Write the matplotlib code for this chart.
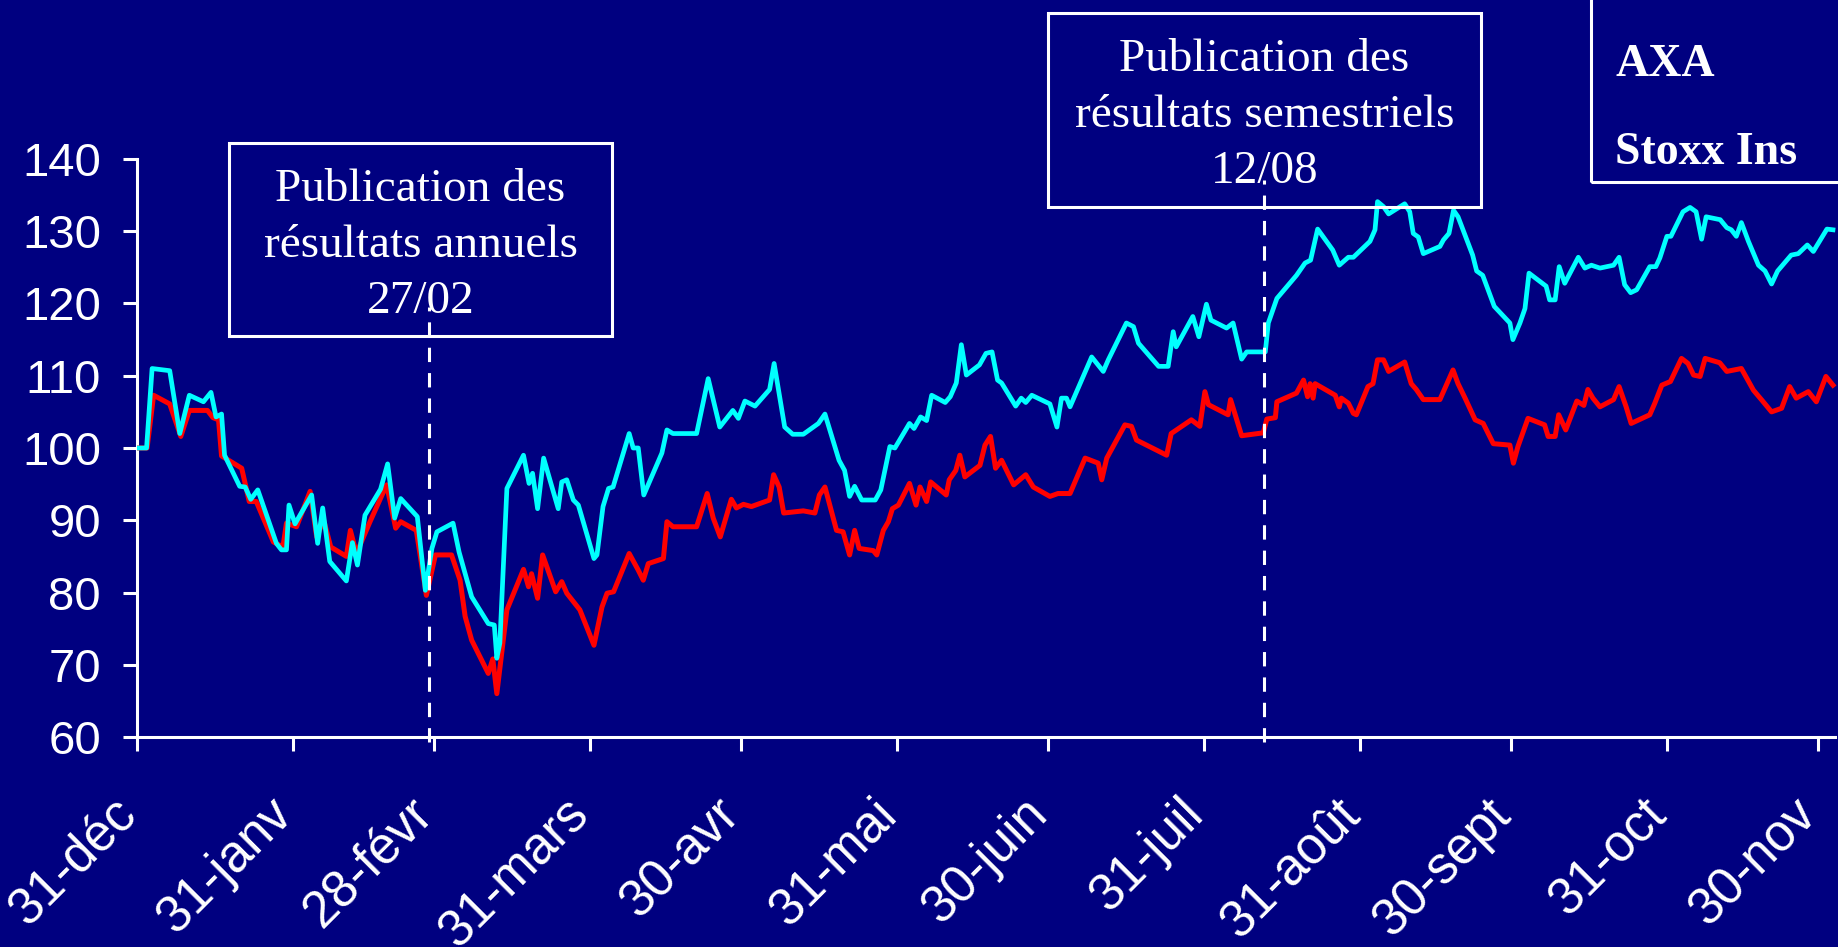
import matplotlib
matplotlib.use("Agg")
import matplotlib.pyplot as plt
from matplotlib.patches import Rectangle
from matplotlib.transforms import ScaledTranslation
import pandas as pd

# jours depuis le 31/12/2002, indice base 100
axa_days = [0, 1.9, 3.0, 6.5, 8.5, 10.4, 13.2, 14.7, 15.7, 16.8, 17.4, 20.4, 21.5, 22.6, 24.0,
            27.7, 28.7, 29.7, 30.2, 31.4, 34.7, 35.9, 36.9, 38.3, 41.6, 42.8, 43.8, 45.3, 48.4,
            49.8, 51.2, 52.4, 55.7, 57.3, 58.6, 59.6, 62.8, 64.0, 66.5, 69.8, 71.0, 71.5, 72.1,
            73.5, 76.8, 77.9, 78.6, 79.6, 80.8, 83.7, 84.4, 85.4, 86.7, 87.7, 90.8, 91.4, 92.6,
            93.7, 94.6, 97.8, 98.6, 99.6, 100.7, 104.3, 105.3, 106.5, 111.2, 113.5, 115.8,
            118.4, 119.5, 120.8, 122.8, 125.7, 126.6, 128.7, 130.3, 132.4, 135.4, 136.7, 139.5,
            140.6, 141.6, 142.6, 144.0, 146.7, 147.8, 149.6, 150.6, 153.5, 154.4, 155.7, 156.9,
            157.9, 160.6, 161.6, 162.8, 163.8, 164.8, 167.4, 168.7, 169.9, 171.0, 171.8, 174.6,
            175.7, 176.6, 177.8, 181.4, 182.8, 183.7, 184.7, 185.4, 189.7, 192.0, 193.0, 196.6,
            198.0, 199.0, 203.0, 204.9, 205.9, 206.5, 209.8, 211.0, 212.5, 213.4, 216.5, 217.8,
            219.5, 220.5, 224.2, 224.8, 226.5, 230.4, 232.1, 233.2, 234.6, 237.6, 238.9, 240.7,
            241.7, 245.0, 246.0, 246.5, 247.7, 248.7, 251.9, 252.9, 253.6, 254.6, 255.6, 258.9,
            259.6, 260.7, 261.6, 262.5, 265.4, 266.2, 267.4, 269.7, 272.8, 273.4, 274.8, 275.8,
            276.6, 280.0, 280.7, 281.8, 282.6, 283.7, 286.4, 287.7, 289.0, 290.7, 293.4, 294.5,
            295.6, 296.8, 298.0, 300.6, 301.8, 302.6, 304.0, 304.8, 307.2, 308.6, 309.8, 310.9,
            311.8, 314.6, 315.9, 316.8, 317.8, 318.8, 320.2, 322.2, 323.5, 324.8, 326.0, 328.7,
            330.1, 331.9, 333.1, 335.8, 337.0]
axa = [100, 100, 111.0, 110.7, 102.0, 107.3, 106.4, 107.7, 104.3, 104.7, 99.0, 94.7, 94.6, 92.9, 94.2,
       86.8, 85.9, 85.9, 92.1, 89.5, 93.5, 86.8, 91.7, 84.3, 81.6, 86.9, 83.8, 90.7, 94.3,
       97.8, 90.3, 93.0, 90.5, 80.3, 86.1, 88.4, 89.6, 85.6, 79.4, 75.7, 75.5, 70.9, 73.0,
       94.4, 99.0, 95.1, 96.5, 91.6, 98.6, 91.6, 95.3, 95.6, 92.8, 92.1, 84.7, 85.2, 91.9,
       94.4, 94.6, 102.0, 100.0, 100.0, 93.5, 99.3, 102.5, 102.0, 102.0, 109.6, 102.9,
       105.2, 104.1, 106.5, 105.8, 108.1, 111.7, 102.9, 101.9, 101.9, 103.4, 104.7, 98.3,
       96.9, 93.3, 94.7, 92.8, 92.8, 94.2, 100.2, 100.0, 103.4, 102.7, 104.3, 103.8,
       107.3, 106.3, 107.1, 109.0, 114.3, 110.1, 111.5, 113.1, 113.3, 109.4, 109.0, 105.8,
       106.9, 106.3, 107.3, 106.1, 102.9, 106.9, 106.9, 105.7, 112.6, 110.6, 112.2, 117.3,
       116.8, 114.5, 111.3, 111.3, 116.1, 114.0, 118.2, 115.4, 119.9, 117.7, 116.6, 117.3,
       112.3, 113.3, 113.3, 117.3, 120.7, 123.9, 125.6, 126.0, 130.3, 127.4, 125.3, 126.4,
       126.4, 128.6, 130.2, 134.1, 133.4, 132.4, 133.8, 132.7, 129.7, 129.2, 126.9, 127.9,
       128.8, 129.7, 132.9, 132.0, 126.7, 124.5, 123.9, 119.6, 117.3, 115.0, 117.3, 119.3,
       124.2, 122.4, 120.5, 120.5, 125.1, 122.8, 126.4, 124.9, 125.3, 124.9, 125.3, 126.4,
       122.6, 121.5, 121.9, 125.1, 125.1, 126.3, 129.3, 129.3, 132.7, 133.3, 132.7, 128.9,
       132.0, 131.6, 130.5, 130.2, 129.3, 131.2, 128.6, 125.3, 124.5, 122.7, 124.5, 126.7,
       126.9, 128.1, 127.2, 130.3, 130.2]

stoxx_days = [0, 2.0, 3.3, 6.5, 8.7, 10.4, 14.0, 15.1, 16.2, 16.8, 20.8, 22.3, 23.7, 27.1, 29.0,
              29.7, 31.7, 34.4, 35.7, 37.1, 38.5, 41.6, 42.4, 43.6, 46.3, 49.6, 51.4, 52.4, 55.5,
              57.5, 59.3, 62.5, 64.2, 65.2, 66.5, 69.8, 70.7, 71.5, 73.5, 76.8, 77.8, 78.4, 79.6,
              80.6, 83.2, 84.4, 85.4, 88.0, 90.8, 92.4, 93.4, 94.7, 97.8, 99.6, 100.6, 101.6,
              104.6, 105.3, 106.5, 111.2, 113.3, 114.5, 115.9, 118.1, 119.1, 120.5, 122.1, 125.7,
              126.5, 127.6, 128.5, 132.4, 134.7, 135.6, 136.7, 139.0, 140.3, 141.6, 142.6, 143.5,
              146.3, 147.0, 148.3, 149.3, 150.1, 151.3, 153.5, 154.8, 155.6, 156.9, 157.7, 160.8,
              161.4, 162.7, 163.5, 164.5, 167.5, 168.5, 169.6, 170.6, 171.8, 174.2, 176.6, 178.1,
              181.4, 183.0, 185.4, 188.4, 191.0, 191.7, 192.7, 196.3, 197.6, 198.6, 204.6, 205.5,
              209.5, 211.2, 212.2, 212.9, 216.8, 217.3, 219.5, 223.8, 224.5, 226.2, 226.5, 230.4,
              231.8, 232.6, 233.1, 233.7, 234.1, 238.1, 238.9, 239.3, 240.7, 241.7, 242.3, 244.6,
              245.6, 246.5, 247.7, 248.7, 251.9, 253.2, 254.2, 255.6, 258.9, 260.3, 261.5, 262.5,
              263.9, 265.9, 267.5, 269.5, 272.8, 273.5, 274.4, 276.4, 279.7, 280.4, 281.8, 282.5,
              283.9, 286.1, 287.5, 288.3, 289.3, 290.7, 293.4, 294.5, 295.9, 296.9, 300.6, 301.6,
              303.0, 304.7, 306.9, 308.2, 309.3, 310.6, 311.6, 314.5, 315.9, 318.8, 321.2, 322.9,
              324.8, 326.8, 328.4, 329.7, 332.1, 333.7, 335.6, 337.0]
stoxx = [100, 100, 107.3, 106.1, 101.6, 105.2, 105.2, 104.2, 103.9, 98.9, 97.2, 92.6, 92.6, 87.0, 86.3,
         89.6, 89.1, 94.0, 87.7, 90.0, 86.3, 85.0, 88.6, 85.4, 89.8, 94.9, 88.9, 89.8, 88.6,
         79.6, 85.2, 85.2, 81.7, 76.7, 73.4, 68.8, 70.8, 66.0, 77.6, 83.2, 80.8, 82.6, 79.2,
         85.2, 80.1, 81.5, 79.9, 77.6, 72.7, 78.0, 79.9, 80.1, 85.4, 83.1, 81.7, 84.0,
         84.7, 89.8, 89.1, 89.1, 93.7, 90.3, 87.7, 92.9, 91.7, 92.2, 91.9, 92.8,
         96.3, 94.6, 91.0, 91.3, 91.0, 93.5, 94.6, 88.6, 88.4, 85.2, 88.6, 86.1,
         85.8, 85.2, 88.6, 89.8, 91.6, 92.1, 95.1, 92.1, 94.6, 92.6, 95.3, 93.5,
         95.6, 96.9, 99.0, 96.0, 97.6, 100.4, 101.6, 97.2, 98.3, 94.9, 96.3, 94.6,
         93.3, 93.7, 93.7, 98.6, 97.9, 95.6, 98.6, 103.2, 103.0, 101.1, 99.0, 102.0,
         103.9, 103.0, 107.8, 106.0, 104.6, 106.7, 101.7, 102.1, 104.0, 104.2, 106.4, 107.6,
         109.4, 107.1, 108.9, 106.9, 108.9, 107.3, 105.7, 106.9, 106.2, 104.8, 104.6, 108.5,
         108.9, 112.2, 112.2, 110.6, 111.9, 108.9, 108.1, 106.7, 106.7, 108.9, 110.8, 108.9,
         106.9, 103.9, 103.4, 100.6, 100.4, 97.9, 100.2, 104.1, 103.2, 101.6, 101.6, 104.6,
         102.5, 106.5, 105.9, 108.1, 106.9, 105.7, 106.7, 108.5, 105.7, 103.4, 104.6, 106.2,
         108.7, 109.2, 112.4, 111.7, 110.1, 109.9, 112.4, 111.8, 110.6, 111.0, 108.0, 106.6,
         105.0, 105.5, 108.5, 106.9, 107.8, 106.4, 109.9, 108.7]

tick_dates = ["2002-12-31", "2003-01-31", "2003-02-28", "2003-03-31", "2003-04-30", "2003-05-31",
              "2003-06-30", "2003-07-31", "2003-08-31", "2003-09-30", "2003-10-31", "2003-11-30"]
tick_labels = ["31-déc", "31-janv", "28-févr", "31-mars", "30-avr", "31-mai",
               "30-juin", "31-juil", "31-août", "30-sept", "31-oct", "30-nov"]

event_dates = ["2003-02-27", "2003-08-12"]
event_texts = ["Publication des\nrésultats annuels\n27/02",
               "Publication des\nrésultats semestriels\n12/08"]

origin = pd.Timestamp("2002-12-31")
tick_pos = [(pd.Timestamp(d) - origin).days for d in tick_dates]
event_pos = [(pd.Timestamp(d) - origin).days for d in event_dates]

NAVY = "#000080"
W, H = 1838, 947

fig = plt.figure(figsize=(W / 100, H / 100), dpi=100, facecolor=NAVY)
ax = fig.add_axes([137 / W, 1 - 737 / H, (W - 137) / W, (737 - 159) / H])
ax.set_facecolor(NAVY)

ax.plot(stoxx_days, stoxx, color="#ff0000", lw=3.6, label="Stoxx Ins", zorder=3)
ax.plot(axa_days, axa, color="#00ffff", lw=3.4, label="AXA", zorder=4)

ax.set_xlim(0, 338)
ax.set_ylim(60, 140)
ax.set_yticks(range(60, 141, 10))
ax.set_xticks(tick_pos)
ax.set_xticklabels(tick_labels, rotation=45, ha="right")

for s in ["top", "right"]:
    ax.spines[s].set_visible(False)
for s in ["left", "bottom"]:
    ax.spines[s].set_color("white")
    ax.spines[s].set_linewidth(2.2)
ax.spines["bottom"].set_bounds(0, 337.4)

ax.tick_params(colors="white", width=2.2, length=10)
ax.tick_params(axis="y", pad=16, labelsize=34)
ax.tick_params(axis="x", pad=28, labelsize=37)
shift = ScaledTranslation(9 / 100, 0, fig.dpi_scale_trans)
for lab in ax.get_xticklabels():
    lab.set_family("Liberation Sans")
    lab.set_transform(lab.get_transform() + shift)
for lab in ax.get_yticklabels():
    lab.set_family("Liberation Sans")

# lignes des publications
tops = [119.5, 137.1]
for d, top in zip(event_pos, tops):
    ax.plot([d, d], [59.3, top], color="white", lw=2.2, ls=(0, (4.7, 3.6)),
            clip_on=False, zorder=5)

# cadres de texte
boxes = [(229, 143, 612, 336), (1048, 13, 1481, 207)]
last_baselines = [313, 183]
for (x0, y0, x1, y1), base, txt in zip(boxes, last_baselines, event_texts):
    fig.patches.append(Rectangle((x0 / W, 1 - y1 / H), (x1 - x0) / W, (y1 - y0) / H,
                                 transform=fig.transFigure, fill=False,
                                 edgecolor="white", lw=2.2))
    fig.text((x0 + x1) / 2 / W, 1 - base / H, txt, color="white", ha="center",
             va="baseline", family="Liberation Serif", fontsize=34, linespacing=1.42,
             multialignment="center")

# légende (cadre ouvert vers le haut et la droite, symboles masqués)
fig.patches.append(Rectangle((1591 / W, 1 - 182 / H), 0.2, 0.3, transform=fig.transFigure,
                             fill=False, edgecolor="white", lw=2.2))
h, l = ax.get_legend_handles_labels()
leg = fig.legend(h[::-1], l[::-1], loc="upper left", bbox_to_anchor=(1615 / W, 1 - 44 / H),
                 frameon=False, borderpad=0, borderaxespad=0, handlelength=0,
                 handletextpad=0, labelspacing=1.0, labelcolor="white",
                 prop={"family": "Liberation Serif", "weight": "bold", "size": 33})
for lh in leg.legend_handles:
    lh.set_visible(False)

fig.savefig("out.png", dpi=100, facecolor=NAVY)
